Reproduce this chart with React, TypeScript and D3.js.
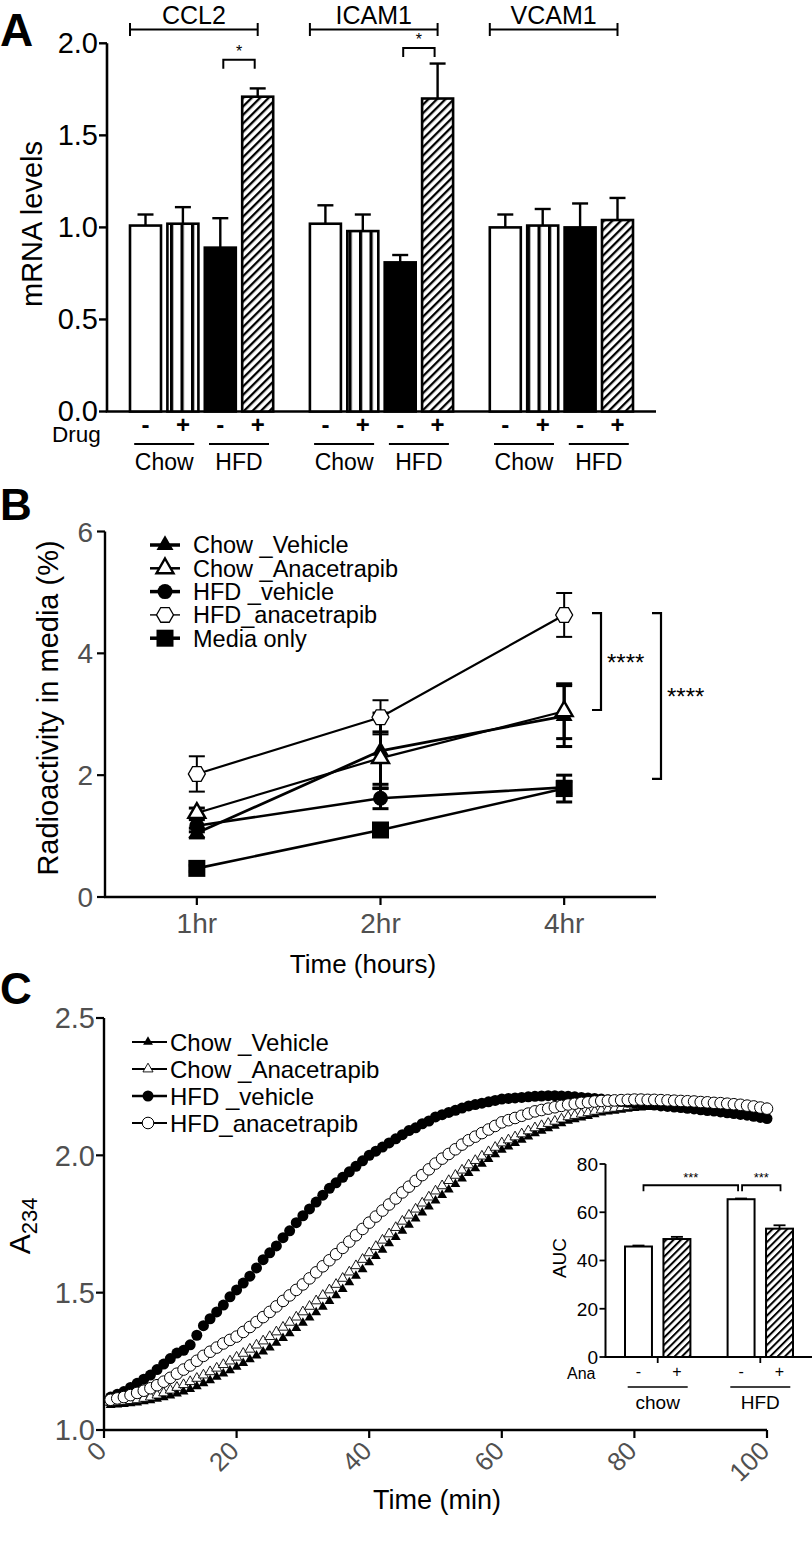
import React from 'react';
import * as d3 from 'd3';

const FONT = '"Liberation Sans", Arial, Helvetica, sans-serif';
const GRAY = '#505050';

// ---------------- Panel A data ----------------
const genes = ['CCL2', 'ICAM1', 'VCAM1'];
const conditions = ['chow-', 'chow+', 'hfd-', 'hfd+'];
const drugSigns = ['-', '+', '-', '+'];
const dietLabels = ['Chow', 'HFD'];
const mrnaCCL2 = [1.01, 1.02, 0.89, 1.71];
const mrnaICAM1 = [1.02, 0.98, 0.81, 1.70];
const mrnaVCAM1 = [1.0, 1.01, 1.0, 1.04];
const semCCL2 = [0.06, 0.09, 0.16, 0.045];
const semICAM1 = [0.1, 0.09, 0.04, 0.19];
const semVCAM1 = [0.07, 0.09, 0.13, 0.12];
const aYTicks = [0, 0.5, 1.0, 1.5, 2.0];
const aSigGenes = ['CCL2', 'ICAM1'];
const aSigLevels = [1.91, 1.975];

// ---------------- Panel B data ----------------
const bTimes = ['1hr', '2hr', '4hr'];
const bYTicks = [0, 2, 4, 6];
const bNames = ['Chow _Vehicle', 'Chow _Anacetrapib', 'HFD _vehicle', 'HFD_anacetrapib', 'Media only'];
const bChowVehicle = [1.05, 2.4, 2.97];
const bChowVehicleErr = [0.08, 0.62, 0.5];
const bChowAna = [1.38, 2.28, 3.05];
const bChowAnaErr = [0.08, 0.43, 0.45];
const bHfdVehicle = [1.17, 1.62, 1.8];
const bHfdVehicleErr = [0.1, 0.17, 0.1];
const bHfdAna = [2.02, 2.95, 4.63];
const bHfdAnaErr = [0.29, 0.28, 0.36];
const bMedia = [0.47, 1.1, 1.78];
const bMediaErr = [0.05, 0.06, 0.22];
const bSigTop = [4.66, 4.66];
const bSigBottom = [3.07, 1.94];
const bSigLabels = ['****', '****'];

// ---------------- Panel C data ----------------
const cXTicks = [0, 20, 40, 60, 80, 100];
const cYTicks = [1.0, 1.5, 2.0, 2.5];
const cNames = ['Chow _Vehicle', 'Chow _Anacetrapib', 'HFD _vehicle', 'HFD_anacetrapib'];
const cChowVehicle = [
  1.09, 1.092, 1.094, 1.097, 1.1, 1.104, 1.108, 1.113, 1.119, 1.125,
  1.132, 1.14, 1.149, 1.159, 1.17, 1.181, 1.193, 1.205, 1.217, 1.23,
  1.243, 1.257, 1.271, 1.285, 1.3, 1.317, 1.334, 1.352, 1.371, 1.39,
  1.409, 1.428, 1.448, 1.469, 1.49, 1.513, 1.537, 1.561, 1.585, 1.61,
  1.633, 1.656, 1.679, 1.702, 1.725, 1.747, 1.769, 1.791, 1.813, 1.835,
  1.855, 1.875, 1.895, 1.915, 1.935, 1.952, 1.969, 1.986, 2.003, 2.02,
  2.032, 2.044, 2.056, 2.068, 2.08, 2.089, 2.098, 2.107, 2.116, 2.125,
  2.131, 2.137, 2.143, 2.149, 2.155, 2.159, 2.162, 2.165, 2.169, 2.172,
  2.174, 2.175, 2.177, 2.178, 2.18, 2.18, 2.181, 2.181, 2.182, 2.182,
  2.181, 2.18, 2.179, 2.178, 2.178, 2.177, 2.175, 2.173, 2.172, 2.17,
];
const cChowAna = [
  1.1, 1.102, 1.104, 1.107, 1.11, 1.115, 1.12, 1.127, 1.135, 1.145,
  1.155, 1.165, 1.176, 1.188, 1.2, 1.212, 1.225, 1.238, 1.251, 1.265,
  1.279, 1.294, 1.309, 1.324, 1.34, 1.357, 1.374, 1.392, 1.411, 1.43,
  1.45, 1.47, 1.49, 1.51, 1.53, 1.552, 1.575, 1.598, 1.621, 1.645,
  1.668, 1.691, 1.714, 1.737, 1.76, 1.782, 1.804, 1.826, 1.848, 1.87,
  1.889, 1.908, 1.927, 1.946, 1.965, 1.981, 1.997, 2.013, 2.029, 2.045,
  2.056, 2.067, 2.078, 2.089, 2.1, 2.108, 2.116, 2.124, 2.132, 2.14,
  2.145, 2.15, 2.155, 2.16, 2.165, 2.168, 2.171, 2.174, 2.177, 2.18,
  2.181, 2.183, 2.184, 2.186, 2.187, 2.187, 2.187, 2.187, 2.187, 2.187,
  2.186, 2.185, 2.183, 2.182, 2.18, 2.178, 2.176, 2.174, 2.172, 2.17,
];
const cHfdVehicle = [
  1.12, 1.13, 1.14, 1.155, 1.17, 1.185, 1.2, 1.22, 1.24, 1.26,
  1.28, 1.29, 1.31, 1.345, 1.38, 1.405, 1.43, 1.455, 1.485, 1.51,
  1.535, 1.56, 1.59, 1.62, 1.645, 1.67, 1.7, 1.725, 1.755, 1.78,
  1.805, 1.83, 1.855, 1.88, 1.9, 1.92, 1.94, 1.96, 1.98, 2.0,
  2.015, 2.03, 2.045, 2.06, 2.075, 2.09, 2.1, 2.115, 2.125, 2.14,
  2.148, 2.156, 2.164, 2.172, 2.18, 2.185, 2.19, 2.195, 2.2, 2.205,
  2.207, 2.209, 2.211, 2.213, 2.215, 2.216, 2.217, 2.217, 2.216, 2.215,
  2.213, 2.211, 2.209, 2.207, 2.205, 2.202, 2.199, 2.196, 2.193, 2.19,
  2.188, 2.185, 2.183, 2.18, 2.178, 2.176, 2.174, 2.171, 2.169, 2.166,
  2.163, 2.161, 2.158, 2.155, 2.152, 2.149, 2.146, 2.142, 2.138, 2.134,
];
const cHfdAna = [
  1.11, 1.115, 1.12, 1.127, 1.135, 1.143, 1.152, 1.163, 1.176, 1.19,
  1.205, 1.22, 1.235, 1.252, 1.27, 1.285, 1.3, 1.315, 1.328, 1.34,
  1.357, 1.375, 1.393, 1.411, 1.43, 1.45, 1.47, 1.49, 1.51, 1.53,
  1.552, 1.574, 1.596, 1.618, 1.64, 1.663, 1.686, 1.709, 1.732, 1.755,
  1.777, 1.799, 1.821, 1.843, 1.865, 1.886, 1.907, 1.928, 1.949, 1.97,
  1.988, 2.005, 2.022, 2.039, 2.055, 2.068, 2.081, 2.094, 2.107, 2.12,
  2.128, 2.136, 2.144, 2.152, 2.16, 2.165, 2.17, 2.175, 2.18, 2.185,
  2.188, 2.191, 2.193, 2.196, 2.198, 2.199, 2.2, 2.201, 2.202, 2.203,
  2.203, 2.202, 2.202, 2.201, 2.2, 2.199, 2.198, 2.197, 2.196, 2.194,
  2.193, 2.191, 2.19, 2.188, 2.186, 2.184, 2.181, 2.178, 2.174, 2.17,
];

// ---------------- Inset (AUC) data ----------------
const insetGroups = ['chow', 'HFD'];
const insetDrug = ['-', '+'];
const aucChow = [45.8, 48.9];
const aucHfd = [65.4, 53.2];
const aucChowErr = [0.4, 0.9];
const aucHfdErr = [0.3, 1.4];
const insetYTicks = [0, 20, 40, 60, 80];
const insetSigLevel = 71.2;

// ---------------- helpers ----------------
const triPath = (size: number) => d3.symbol(d3.symbolTriangle, size)() as string;
const hexPath = (r: number) =>
  (d3.line()([0, 1, 2, 3, 4, 5].map((i) => [r * Math.cos((i * Math.PI) / 3), r * Math.sin((i * Math.PI) / 3)]) as any) as string) + 'Z';

type MarkerKind = 'triF' | 'triO' | 'circF' | 'hexO' | 'sqF' | 'circO';

function Marker({ kind, x, y, big }: { kind: MarkerKind; x: number; y: number; big: boolean }) {
  const t = `translate(${x},${y})`;
  if (kind === 'triF') return <path transform={t} d={triPath(big ? 125 : 42)} fill="#000" />;
  if (kind === 'triO')
    return <path transform={t} d={triPath(big ? 125 : 44)} fill="#fff" stroke="#000" strokeWidth={big ? 2.4 : 0.9} />;
  if (kind === 'circF') return <circle cx={x} cy={y} r={big ? 7.5 : 5.5} fill="#000" />;
  if (kind === 'circO') return <circle cx={x} cy={y} r={5.8} fill="#fff" stroke="#000" strokeWidth={1} />;
  if (kind === 'hexO') return <path transform={t} d={hexPath(8.5)} fill="#fff" stroke="#000" strokeWidth={1.3} />;
  return <rect x={x - 8.5} y={y - 8.5} width={17} height={17} fill="#000" />;
}

export default function App() {
  // ---------- Panel A scales ----------
  const yA = d3.scaleLinear().domain([0, 2]).range([411.5, 43.3]);
  const xGeneA = d3.scaleBand<string>().domain(genes).range([130, 633]).paddingInner(0.204).paddingOuter(0);
  const xCondA = d3.scaleBand<string>().domain(conditions).range([0, xGeneA.bandwidth()]).paddingInner(0.171).paddingOuter(0);
  const aValues: Record<string, number[]> = { CCL2: mrnaCCL2, ICAM1: mrnaICAM1, VCAM1: mrnaVCAM1 };
  const aErrors: Record<string, number[]> = { CCL2: semCCL2, ICAM1: semICAM1, VCAM1: semVCAM1 };
  const aFills = ['#fff', 'url(#vstripe)', '#000', 'url(#hatchA)'];
  const bwA = xCondA.bandwidth();

  // ---------- Panel B scales ----------
  const xB = d3.scalePoint<string>().domain(bTimes).range([105, 656]).padding(0.5);
  const yB = d3.scaleLinear().domain([0, 6]).range([897, 531.5]);
  const bSeries = [
    { name: bNames[4], v: bMedia, e: bMediaErr, kind: 'sqF' as MarkerKind, lw: 2.6 },
    { name: bNames[2], v: bHfdVehicle, e: bHfdVehicleErr, kind: 'circF' as MarkerKind, lw: 2.6 },
    { name: bNames[0], v: bChowVehicle, e: bChowVehicleErr, kind: 'triF' as MarkerKind, lw: 2.8 },
    { name: bNames[1], v: bChowAna, e: bChowAnaErr, kind: 'triO' as MarkerKind, lw: 2.2 },
    { name: bNames[3], v: bHfdAna, e: bHfdAnaErr, kind: 'hexO' as MarkerKind, lw: 2.2 },
  ];
  const bLegendKinds: MarkerKind[] = ['triF', 'triO', 'circF', 'hexO', 'sqF'];
  const bLegendLw = [3.5, 2.5, 3.5, 1.4, 3.5];
  const lineB = d3
    .line<number>()
    .x((_, i) => xB(bTimes[i]) as number)
    .y((d) => yB(d));

  // ---------- Panel C scales ----------
  const xC = d3.scaleLinear().domain([0, 100]).range([104, 767]);
  const yC = d3.scaleLinear().domain([1, 2.5]).range([1430, 1018]);
  const cSeries = [
    { v: cChowVehicle, kind: 'triF' as MarkerKind },
    { v: cChowAna, kind: 'triO' as MarkerKind },
    { v: cHfdVehicle, kind: 'circF' as MarkerKind },
    { v: cHfdAna, kind: 'circO' as MarkerKind },
  ];
  const cLegendKinds: MarkerKind[] = ['triF', 'triO', 'circF', 'circO'];

  // ---------- Inset scales ----------
  const xIG = d3.scaleBand<string>().domain(insetGroups).range([625, 793]).paddingInner(0.3625).paddingOuter(0);
  const xIB = d3.scaleBand<string>().domain(insetDrug).range([0, xIG.bandwidth()]).paddingInner(0.2987).paddingOuter(0);
  const yI = d3.scaleLinear().domain([0, 80]).range([1357, 1164]);
  const insetVals: Record<string, number[]> = { chow: aucChow, HFD: aucHfd };
  const insetErrs: Record<string, number[]> = { chow: aucChowErr, HFD: aucHfdErr };
  const bwI = xIB.bandwidth();
  const insetCenter = (g: string, d: string) => (xIG(g) as number) + (xIB(d) as number) + bwI / 2;

  return (
    <svg
      width={812}
      height={1551}
      viewBox="0 0 812 1551"
      style={{ position: 'absolute', left: 0, top: 0, background: '#fff' }}
      fontFamily={FONT}
    >
      <defs>
        <pattern id="vstripe" patternUnits="userSpaceOnUse" width={10.5} height={10} x={2}>
          <rect width={10.5} height={10} fill="#fff" />
          <rect x={0} width={3.2} height={10} fill="#000" />
        </pattern>
        <pattern id="hatchA" patternUnits="userSpaceOnUse" width={6} height={6} patternTransform="rotate(45)">
          <rect width={6} height={6} fill="#fff" />
          <rect x={0} width={2.3} height={6} fill="#000" />
        </pattern>
        <pattern id="hatchI" patternUnits="userSpaceOnUse" width={5.2} height={5.2} patternTransform="rotate(45)">
          <rect width={5.2} height={5.2} fill="#fff" />
          <rect x={0} width={2} height={5.2} fill="#000" />
        </pattern>
      </defs>
      <rect width={812} height={1551} fill="#fff" />

      {/* ================= PANEL A ================= */}
      <text x={0} y={46} fontSize={46} fontWeight="bold">A</text>
      <line x1={107} x2={107} y1={yA(2)} y2={yA(0)} stroke="#000" strokeWidth={2.6} />
      <line x1={105.7} x2={656} y1={yA(0)} y2={yA(0)} stroke="#000" strokeWidth={2.6} />
      {aYTicks.map((t) => (
        <g key={'ay' + t}>
          <line x1={99} x2={107} y1={yA(t)} y2={yA(t)} stroke="#000" strokeWidth={2.4} />
          <text x={98} y={yA(t)} dy="0.34em" textAnchor="end" fontSize={29}>
            {t.toFixed(1)}
          </text>
        </g>
      ))}
      <text transform={`translate(32,224) rotate(-90)`} textAnchor="middle" dy="0.36em" fontSize={29}>
        mRNA levels
      </text>
      {genes.map((g) => (
        <g key={'bars' + g}>
          {conditions.map((c, i) => {
            const x = (xGeneA(g) as number) + (xCondA(c) as number);
            const v = aValues[g][i];
            const e = aErrors[g][i];
            const cx = x + bwA / 2;
            return (
              <g key={c}>
                <line x1={cx} x2={cx} y1={yA(v)} y2={yA(v + e)} stroke="#000" strokeWidth={2.4} />
                <line x1={cx - 8} x2={cx + 8} y1={yA(v + e)} y2={yA(v + e)} stroke="#000" strokeWidth={2.4} />
                <rect x={x} y={yA(v)} width={bwA} height={yA(0) - yA(v)} fill={aFills[i]} stroke="#000" strokeWidth={2.6} />
              </g>
            );
          })}
          {(() => {
            const x1 = xGeneA(g) as number;
            const x2 = x1 + (xCondA('hfd+') as number) + bwA / 2;
            return (
              <g>
                <line x1={x1} x2={x2} y1={29.5} y2={29.5} stroke="#000" strokeWidth={2} />
                <line x1={x1} x2={x1} y1={23} y2={36} stroke="#000" strokeWidth={2} />
                <line x1={x2} x2={x2} y1={23} y2={36} stroke="#000" strokeWidth={2} />
                <text x={(x1 + x2) / 2} y={23.5} textAnchor="middle" fontSize={25}>
                  {g}
                </text>
              </g>
            );
          })()}
          {conditions.map((c, i) => (
            <text
              key={'s' + c}
              x={(xGeneA(g) as number) + (xCondA(c) as number) + bwA / 2}
              y={433}
              textAnchor="middle"
              fontSize={24}
              fontWeight="bold"
            >
              {drugSigns[i]}
            </text>
          ))}
          {dietLabels.map((d, k) => {
            const a = (xGeneA(g) as number) + (xCondA(conditions[k * 2]) as number) + bwA / 2;
            const b = (xGeneA(g) as number) + (xCondA(conditions[k * 2 + 1]) as number) + bwA / 2;
            const m = (a + b) / 2;
            return (
              <g key={'d' + d}>
                <line x1={m - 30} x2={m + 30} y1={444} y2={444} stroke="#000" strokeWidth={2} />
                <text x={m} y={470} textAnchor="middle" fontSize={23}>
                  {d}
                </text>
              </g>
            );
          })}
        </g>
      ))}
      <text x={52} y={442} fontSize={22.5}>Drug</text>
      {aSigGenes.map((g, k) => {
        const x1 = (xGeneA(g) as number) + (xCondA('hfd-') as number) + bwA / 2 + 3;
        const x2 = (xGeneA(g) as number) + (xCondA('hfd+') as number) + bwA / 2 - 3;
        const y = yA(aSigLevels[k]);
        return (
          <g key={'sig' + g}>
            <path d={`M${x1},${y + 9}V${y}H${x2}V${y + 9}`} fill="none" stroke="#000" strokeWidth={2} />
            <text x={(x1 + x2) / 2} y={y - 3} textAnchor="middle" fontSize={16}>
              *
            </text>
          </g>
        );
      })}

      {/* ================= PANEL B ================= */}
      <text x={0} y={520} fontSize={44} fontWeight="bold">B</text>
      <line x1={105} x2={105} y1={yB(6)} y2={yB(0)} stroke="#000" strokeWidth={2.4} />
      <line x1={104} x2={656} y1={yB(0)} y2={yB(0)} stroke="#000" strokeWidth={2.4} />
      {bYTicks.map((t) => (
        <g key={'by' + t}>
          <line x1={97} x2={105} y1={yB(t)} y2={yB(t)} stroke="#000" strokeWidth={2.2} />
          <text x={93} y={yB(t)} dy="0.36em" textAnchor="end" fontSize={28} fill={GRAY}>
            {t}
          </text>
        </g>
      ))}
      {bTimes.map((t) => (
        <g key={'bx' + t}>
          <line x1={xB(t)} x2={xB(t)} y1={yB(0)} y2={yB(0) + 8} stroke="#000" strokeWidth={2.2} />
          <text x={xB(t)} y={933} textAnchor="middle" fontSize={28} fill={GRAY}>
            {t}
          </text>
        </g>
      ))}
      <text x={363} y={973} textAnchor="middle" fontSize={26}>Time (hours)</text>
      <text transform={`translate(48,708) rotate(-90)`} textAnchor="middle" dy="0.36em" fontSize={29}>
        Radioactivity in media (%)
      </text>
      {bSeries.map((s) => (
        <path key={'bl' + s.name} d={lineB(s.v) as string} fill="none" stroke="#000" strokeWidth={s.lw} />
      ))}
      {bSeries.map((s) => (
        <g key={'bm' + s.name}>
          {s.v.map((v, i) => {
            const x = xB(bTimes[i]) as number;
            const lw = s.kind === 'hexO' ? 2 : 3;
            return (
              <g key={i}>
                <line x1={x} x2={x} y1={yB(v - s.e[i])} y2={yB(v + s.e[i])} stroke="#000" strokeWidth={lw} />
                <line x1={x - 8} x2={x + 8} y1={yB(v + s.e[i])} y2={yB(v + s.e[i])} stroke="#000" strokeWidth={lw} />
                <line x1={x - 8} x2={x + 8} y1={yB(v - s.e[i])} y2={yB(v - s.e[i])} stroke="#000" strokeWidth={lw} />
                <Marker kind={s.kind} x={x} y={yB(v)} big={true} />
              </g>
            );
          })}
        </g>
      ))}
      {bSigTop.map((top, k) => {
        const x = k === 0 ? 601 : 661;
        return (
          <g key={'bsig' + k}>
            <path
              d={`M${x - 9},${yB(top)}H${x}V${yB(bSigBottom[k])}H${x - 9}`}
              fill="none"
              stroke="#000"
              strokeWidth={2.2}
            />
            <text x={x + 6} y={(yB(top) + yB(bSigBottom[k])) / 2 + 9} fontSize={24}>
              {bSigLabels[k]}
            </text>
          </g>
        );
      })}
      {bNames.map((n, i) => {
        const y = 545 + i * 23.3;
        return (
          <g key={'blg' + n}>
            <line x1={150} x2={180} y1={y} y2={y} stroke="#000" strokeWidth={bLegendLw[i]} />
            <Marker kind={bLegendKinds[i]} x={165} y={y} big={true} />
            <text x={193} y={y} dy="0.36em" fontSize={23.5}>
              {n}
            </text>
          </g>
        );
      })}

      {/* ================= PANEL C ================= */}
      <text x={0} y={1004} fontSize={44} fontWeight="bold">C</text>
      <line x1={104} x2={104} y1={yC(2.5)} y2={yC(1)} stroke="#000" strokeWidth={2.4} />
      <line x1={103} x2={767} y1={yC(1)} y2={yC(1)} stroke="#000" strokeWidth={2.4} />
      {cYTicks.map((t) => (
        <g key={'cy' + t}>
          <line x1={96} x2={104} y1={yC(t)} y2={yC(t)} stroke="#000" strokeWidth={2.2} />
          <text x={95} y={yC(t)} dy="0.36em" textAnchor="end" fontSize={29} fill={GRAY}>
            {t.toFixed(1)}
          </text>
        </g>
      ))}
      {cXTicks.map((t) => (
        <g key={'cx' + t}>
          <line x1={xC(t)} x2={xC(t)} y1={yC(1)} y2={yC(1) + 8} stroke="#000" strokeWidth={2.2} />
          <text
            transform={`translate(${xC(t) - 2.5},${1446}) rotate(-45)`}
            textAnchor="end"
            dy="0.35em"
            fontSize={26}
            fill={GRAY}
          >
            {t}
          </text>
        </g>
      ))}
      <text x={437} y={1509} textAnchor="middle" fontSize={27}>Time (min)</text>
      <text transform={`translate(30,1226) rotate(-90)`} textAnchor="middle" fontSize={30}>
        A<tspan fontSize={22} dy={7}>234</tspan>
      </text>
      {cSeries.map((s, k) => (
        <g key={'cs' + k}>
          {s.v.map((v, i) => (
            <Marker key={i} kind={s.kind} x={xC(i + 1)} y={yC(v)} big={false} />
          ))}
        </g>
      ))}
      {cNames.map((n, i) => {
        const y = 1042 + i * 27;
        return (
          <g key={'clg' + n}>
            <line x1={132} x2={167} y1={y} y2={y} stroke="#000" strokeWidth={i === 2 ? 2.6 : 1.8} />
            <Marker kind={cLegendKinds[i]} x={148} y={y} big={false} />
            <text x={170} y={y} dy="0.36em" fontSize={24}>
              {n}
            </text>
          </g>
        );
      })}

      {/* ---------- Inset ---------- */}
      <line x1={605.5} x2={605.5} y1={yI(80)} y2={yI(0)} stroke="#000" strokeWidth={2} />
      <line x1={604.5} x2={812} y1={yI(0)} y2={yI(0)} stroke="#000" strokeWidth={2} />
      {insetYTicks.map((t) => (
        <g key={'iy' + t}>
          <line x1={599.5} x2={605.5} y1={yI(t)} y2={yI(t)} stroke="#000" strokeWidth={1.8} />
          <text x={598} y={yI(t)} dy="0.36em" textAnchor="end" fontSize={19}>
            {t}
          </text>
        </g>
      ))}
      <text transform={`translate(559,1258) rotate(-90)`} textAnchor="middle" dy="0.36em" fontSize={19}>
        AUC
      </text>
      {insetGroups.map((g) => (
        <g key={'ig' + g}>
          {insetDrug.map((d, i) => {
            const x = (xIG(g) as number) + (xIB(d) as number);
            const v = insetVals[g][i];
            const e = insetErrs[g][i];
            const cx = x + bwI / 2;
            return (
              <g key={d}>
                <line x1={cx} x2={cx} y1={yI(v)} y2={yI(v + e)} stroke="#000" strokeWidth={1.8} />
                <line x1={cx - 6} x2={cx + 6} y1={yI(v + e)} y2={yI(v + e)} stroke="#000" strokeWidth={1.8} />
                <rect
                  x={x}
                  y={yI(v)}
                  width={bwI}
                  height={yI(0) - yI(v)}
                  fill={i === 0 ? '#fff' : 'url(#hatchI)'}
                  stroke="#000"
                  strokeWidth={2}
                />
                <text x={cx} y={1377} textAnchor="middle" fontSize={16} fill="#000">
                  {d}
                </text>
              </g>
            );
          })}
          {(() => {
            const m = (xIG(g) as number) + xIG.bandwidth() / 2;
            return (
              <g>
                <line x1={m} x2={m} y1={yI(0)} y2={yI(0) + 6} stroke="#000" strokeWidth={1.8} />
                <line x1={m - 30} x2={m + 30} y1={1387} y2={1387} stroke="#000" strokeWidth={1.6} />
                <text x={m} y={1409} textAnchor="middle" fontSize={19}>
                  {g}
                </text>
              </g>
            );
          })()}
        </g>
      ))}
      <text x={567} y={1379} fontSize={16}>Ana</text>
      {(() => {
        const y = yI(insetSigLevel);
        const a1 = insetCenter('chow', '-') + 5;
        const a2 = insetCenter('HFD', '-') - 3;
        const b1 = insetCenter('HFD', '-') + 1;
        const b2 = insetCenter('HFD', '+') + 1;
        return (
          <g>
            <path d={`M${a1},${y + 6}V${y}H${a2}V${y + 6}`} fill="none" stroke="#000" strokeWidth={1.8} />
            <path d={`M${b1},${y + 6}V${y}H${b2}V${y + 6}`} fill="none" stroke="#000" strokeWidth={1.8} />
            <text x={(a1 + a2) / 2} y={y - 3} textAnchor="middle" fontSize={13}>***</text>
            <text x={(b1 + b2) / 2} y={y - 3} textAnchor="middle" fontSize={13}>***</text>
          </g>
        );
      })()}
    </svg>
  );
}
